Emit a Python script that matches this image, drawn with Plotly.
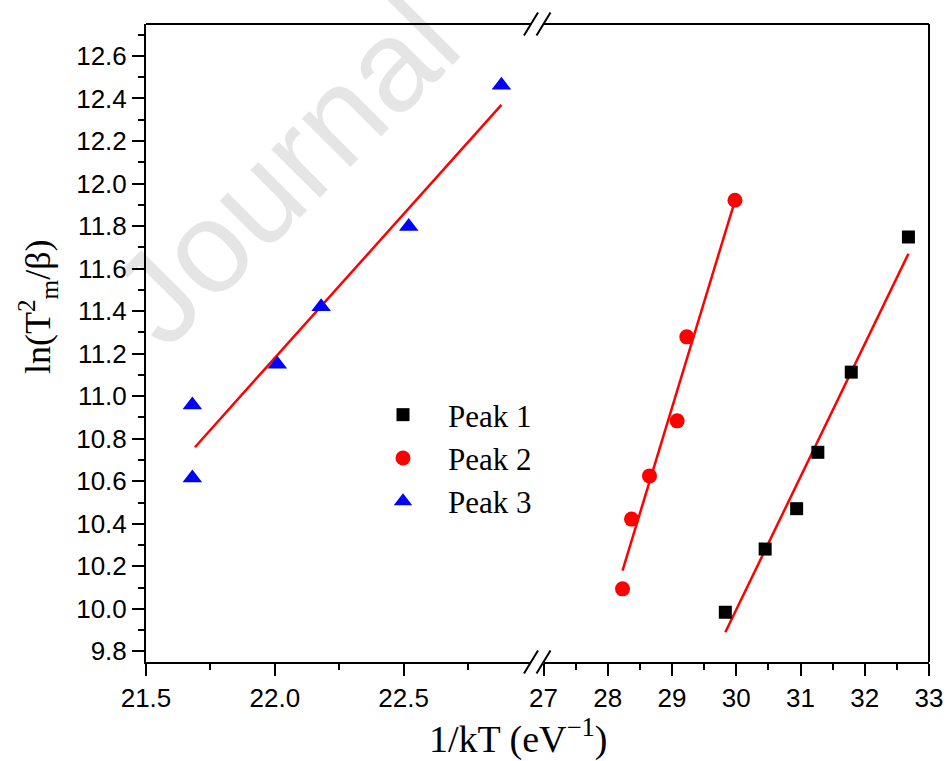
import plotly.graph_objects as go

# Peak positions: 1/kT (eV^-1) versus ln(Tm^2/beta)
peak1_x = [29.83, 30.45, 30.94, 31.27, 31.79, 32.68]
peak1_y = [9.984, 10.281, 10.471, 10.736, 11.113, 11.748]

peak2_x = [28.23, 28.37, 28.65, 29.08, 29.23, 29.98]
peak2_y = [10.094, 10.422, 10.625, 10.884, 11.279, 11.921]

peak3_x = [21.68, 21.68, 22.01, 22.18, 22.52, 22.88]
peak3_y = [10.615, 10.958, 11.150, 11.421, 11.798, 12.462]

# Linear fit segments (end points)
fit1_x = [29.83, 32.68]
fit1_y = [9.89, 11.67]
fit2_x = [28.23, 29.96]
fit2_y = [10.18, 11.90]
fit3_x = [21.69, 22.88]
fit3_y = [10.76, 12.37]

left_ticks = [21.5, 22.0, 22.5]
left_ticklabels = ["21.5", "22.0", "22.5"]
right_ticks = [27, 28, 29, 30, 31, 32, 33]

W, H = 947, 761
ML, MR, MT, MB = 146, 18, 24, 99
PW = W - ML - MR
PH = H - MT - MB

# broken x axis: left segment ends / right segment starts (paper fraction)
BREAK_L = (531 - ML) / PW
BREAK_R = (543.5 - ML) / PW
LEFT_MAX = 21.5 + (531 - ML) / 256.7

tick_font = dict(family="Arial, Liberation Sans, sans-serif", size=26, color="black")
serif = "Times New Roman, Liberation Serif, serif"

fig = go.Figure()

fig.add_trace(go.Scatter(x=fit1_x, y=fit1_y, mode="lines", xaxis="x2", yaxis="y",
                         line=dict(color="#ff0000", width=2.5), showlegend=False, hoverinfo="skip"))
fig.add_trace(go.Scatter(x=fit2_x, y=fit2_y, mode="lines", xaxis="x2", yaxis="y",
                         line=dict(color="#ff0000", width=2.5), showlegend=False, hoverinfo="skip"))
fig.add_trace(go.Scatter(x=fit3_x, y=fit3_y, mode="lines", xaxis="x", yaxis="y",
                         line=dict(color="#ff0000", width=2.5), showlegend=False, hoverinfo="skip"))

fig.add_trace(go.Scatter(x=peak1_x, y=peak1_y, mode="markers", name="Peak 1", xaxis="x2", yaxis="y",
                         marker=dict(symbol="square", size=13, color="black")))
fig.add_trace(go.Scatter(x=peak2_x, y=peak2_y, mode="markers", name="Peak 2", xaxis="x2", yaxis="y",
                         marker=dict(symbol="circle", size=15, color="#ff0000")))
fig.add_trace(go.Scatter(x=peak3_x, y=peak3_y, mode="markers", name="Peak 3", xaxis="x", yaxis="y",
                         marker=dict(symbol="triangle-up", size=17, color="#0000ff")))

axis_common = dict(showgrid=False, zeroline=False, showline=True, linecolor="black", linewidth=2,
                   ticks="outside", ticklen=12, tickwidth=2, tickcolor="black", tickfont=tick_font,
                   automargin=False)

fig.update_layout(
    template="none",
    width=W, height=H,
    margin=dict(l=ML, r=MR, t=MT, b=MB, pad=0, autoexpand=False),
    paper_bgcolor="white", plot_bgcolor="white",
    xaxis=dict(domain=[0, BREAK_L], range=[21.5, LEFT_MAX - 0.005], tickmode="array",
               tickvals=left_ticks, ticktext=left_ticklabels,
               minor=dict(tickmode="linear", tick0=21.5, dtick=0.25, ticks="outside",
                          ticklen=6, tickwidth=2, tickcolor="black", showgrid=False),
               anchor="y", **axis_common),
    xaxis2=dict(domain=[BREAK_R, 1], range=[27, 33], tickmode="array", tickvals=right_ticks,
                minor=dict(tickmode="linear", tick0=27, dtick=0.5, ticks="outside",
                           ticklen=6, tickwidth=2, tickcolor="black", showgrid=False),
                anchor="y", **axis_common),
    yaxis=dict(domain=[0, 1], range=[9.75, 12.75], tickmode="linear", tick0=9.8, dtick=0.2,
               tickformat=".1f",
               minor=dict(tickmode="linear", tick0=9.8, dtick=0.1, ticks="outside",
                          ticklen=6, tickwidth=2, tickcolor="black", showgrid=False),
               anchor="x", **axis_common),
    legend=dict(x=(358 - ML) / PW, y=(H - MB - 388) / PH, xanchor="left", yanchor="top",
                bgcolor="rgba(0,0,0,0)", borderwidth=0, itemwidth=80,
                font=dict(family=serif, size=31, color="black"), tracegroupgap=0),
)

shapes = []
# top frame segments and right frame line
shapes.append(dict(type="line", xref="paper", yref="paper", x0=0, x1=BREAK_L, y0=1, y1=1,
                   line=dict(color="black", width=2)))
shapes.append(dict(type="line", xref="paper", yref="paper", x0=BREAK_R, x1=1, y0=1, y1=1,
                   line=dict(color="black", width=2)))
shapes.append(dict(type="line", xref="paper", yref="paper", x0=1, x1=1, y0=0, y1=1,
                   line=dict(color="black", width=2)))
# break marks "//" on top and bottom axes
dxp = 7 / PW
dyp = 11.5 / PH
for yb in (0, 1):
    for xb in (BREAK_L, BREAK_R):
        shapes.append(dict(type="line", xref="paper", yref="paper",
                           x0=xb - dxp, x1=xb + dxp, y0=yb - dyp, y1=yb + dyp,
                           line=dict(color="black", width=2)))
fig.update_layout(shapes=shapes)

annotations = [
    dict(text="1/kT (eV<sup>\u22121</sup>)", xref="paper", yref="paper",
         x=(518 - ML) / PW, y=(H - MB - 736) / PH, xanchor="center", yanchor="middle",
         showarrow=False, font=dict(family=serif, size=38, color="black")),
    dict(text="ln(T<sup>2</sup><sub>m</sub>/\u03b2)", xref="paper", yref="paper",
         x=(38 - ML) / PW, y=(H - MB - 307) / PH, xanchor="center", yanchor="middle",
         textangle=-90, showarrow=False, font=dict(family=serif, size=36, color="black")),
    dict(text="Journal", xref="paper", yref="paper",
         x=(284 - ML) / PW, y=(H - MB - 170) / PH, xanchor="center", yanchor="middle",
         textangle=-45, showarrow=False,
         font=dict(family="Arial, Liberation Sans, sans-serif", size=130, color="rgba(0,0,0,0.1)")),
]
fig.update_layout(annotations=annotations)

fig.write_html("out.html")
